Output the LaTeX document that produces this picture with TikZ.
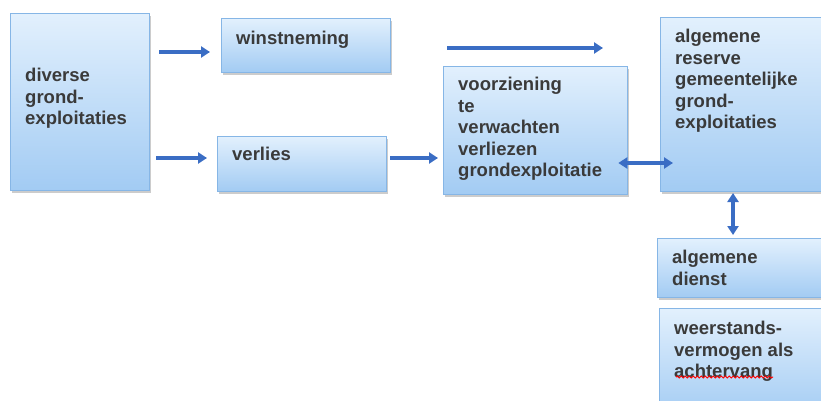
\documentclass[tikz,border=0pt]{standalone}
\usepackage{fontspec}
\setmainfont{Liberation Sans}
\usetikzlibrary{arrows.meta,shadows,decorations.pathmorphing}
\definecolor{boxtop}{HTML}{E2F0FD}
\definecolor{boxbot}{HTML}{A2CBF3}
\definecolor{boxline}{HTML}{86B6E6}
\definecolor{arrowblue}{HTML}{3A6DC4}
\definecolor{txt}{HTML}{3A3A3A}
\tikzset{
  boxstyle/.style={draw=boxline, line width=1.3pt, top color=boxtop, bottom color=boxbot,
    drop shadow={shadow xshift=1.5pt, shadow yshift=-2pt, opacity=0.4, fill=gray},
    inner sep=0pt, anchor=north west},
  label/.style={anchor=north west, inner sep=0pt, align=left, text=txt,
    font=\fontsize{18.5}{21.5}\selectfont\bfseries},
  conn/.style={draw=arrowblue, line width=3.2pt, -{Triangle[length=9pt,width=11pt]}},
  dconn/.style={draw=arrowblue, line width=3.2pt, {Triangle[length=9pt,width=11pt]}-{Triangle[length=9pt,width=11pt]}}
}
\begin{document}
\begin{tikzpicture}[x=1pt,y=-1pt]
\clip (0,0) rectangle (821,401);
\fill[white] (0,0) rectangle (821,401);
% boxes
\node[boxstyle, minimum width=139pt, minimum height=177pt] (dv) at (10,13) {};
\node[boxstyle, minimum width=169pt, minimum height=54pt] (wn) at (221,18) {};
\node[boxstyle, minimum width=169pt, minimum height=55pt] (vl) at (217,136) {};
\node[boxstyle, minimum width=184pt, minimum height=128pt] (vz) at (443,66) {};
\node[boxstyle, minimum width=180pt, minimum height=174pt] (ar) at (660,17) {};
\node[boxstyle, minimum width=180pt, minimum height=59pt] (ad) at (657,238) {};
\node[boxstyle, minimum width=180pt, minimum height=110pt] (wv) at (659,308) {};
% texts
\node[label] (tdv) at (25,68) {diverse\\grond-\\exploitaties};
\node[label] (twn) at (236,31) {winstneming};
\node[label] (tvl) at (232,147) {verlies};
\node[label] (tvz) at (458,77) {voorziening\\te\\verwachten\\verliezen\\grondexploitatie};
\node[label] (tar) at (675,29) {algemene\\reserve\\gemeentelijke\\grond-\\exploitaties};
\node[label] (tad) at (672,250) {algemene\\dienst};
\node[label] (twv) at (674,321) {weerstands-\\vermogen als\\achtervang};
% spell-check underline
\draw[red, line width=1pt, decorate, decoration={snake, amplitude=1pt, segment length=4pt}] (676,377) -- (773,377);
% connectors
\coordinate (fa) at (447,48);
\coordinate (fb) at (603,48);
\draw[conn] (fa) -- (fb);
\draw[conn, shorten <=9pt, shorten >=11pt] (dv.east |- 0,52) -- (wn.west |- 0,52);
\draw[conn, shorten <=6pt, shorten >=10pt] (dv.east |- 0,158) -- (vl.west |- 0,158);
\draw[conn, shorten <=3pt, shorten >=5pt] (vl.east |- 0,158) -- (vz.west |- 0,158);
\draw[dconn, shorten <=-10pt, shorten >=-13pt] (vz.east |- 0,163) -- (ar.west |- 0,163);
\draw[dconn, shorten <=2pt, shorten >=3pt] (733,191) -- (733,238);
\end{tikzpicture}
\end{document}
